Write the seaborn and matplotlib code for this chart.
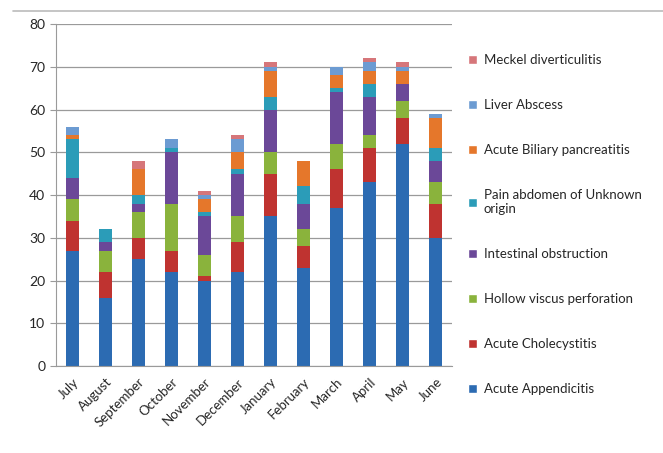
import numpy as np
import matplotlib
matplotlib.use("Agg")
import matplotlib.pyplot as plt
from matplotlib.patches import Patch
import seaborn as sns

# months and case counts per diagnosis
months = ["July", "August", "September", "October", "November", "December",
          "January", "February", "March", "April", "May", "June"]

acute_appendicitis = [27, 16, 25, 22, 20, 22, 35, 23, 37, 43, 52, 30]
acute_cholecystitis = [7, 6, 5, 5, 1, 7, 10, 5, 9, 8, 6, 8]
hollow_viscus = [5, 5, 6, 11, 5, 6, 5, 4, 6, 3, 4, 5]
intestinal_obstruction = [5, 2, 2, 12, 9, 10, 10, 6, 12, 9, 4, 5]
pain_unknown = [9, 3, 2, 1, 1, 1, 3, 4, 1, 3, 0, 3]
biliary_pancreatitis = [1, 0, 6, 0, 3, 4, 6, 6, 3, 3, 3, 7]
liver_abscess = [2, 0, 0, 2, 1, 3, 1, 0, 2, 2, 1, 1]
meckel = [0, 0, 2, 0, 1, 1, 1, 0, 0, 1, 1, 0]

series_names = ["Acute Appendicitis", "Acute Cholecystitis", "Hollow viscus perforation",
                "Intestinal obstruction", "Pain abdomen of Unknown\norigin",
                "Acute Biliary pancreatitis", "Liver Abscess", "Meckel diverticulitis"]
series_values = [acute_appendicitis, acute_cholecystitis, hollow_viscus,
                 intestinal_obstruction, pain_unknown, biliary_pancreatitis,
                 liver_abscess, meckel]
colors = ["#2C6BB2", "#BF3330", "#8AB33C", "#6B4898", "#2B9CB8",
          "#E5772B", "#6C9BD2", "#D6767A"]

sns.set_style("white")
plt.rcParams["font.family"] = ["Lato", "DejaVu Sans"]

fig = plt.figure(figsize=(6.63, 4.53), dpi=100)
ax = fig.add_axes([0.084, 0.192, 0.598, 0.755])

bottom = np.zeros(len(months))
for name, vals, col in zip(series_names, series_values, colors):
    sns.barplot(x=months, y=vals, bottom=bottom, color=col, width=0.4,
                errorbar=None, ax=ax, linewidth=0, saturation=1)
    bottom = bottom + np.array(vals)

ax.set_ylim(0, 80)
ax.set_xlim(-0.5, len(months) - 0.5)
ax.set_yticks(range(0, 81, 10))
ax.yaxis.grid(True, color="#9a9a9a", linewidth=0.9)
ax.set_axisbelow(True)
for side in ["top", "right"]:
    ax.spines[side].set_visible(False)
for side in ["left", "bottom"]:
    ax.spines[side].set_color("#9a9a9a")

# Excel-style ticks between the categories
ax.set_xticks(np.arange(len(months)))
ax.set_xticklabels(months, rotation=45, ha="right", rotation_mode="anchor", fontsize=9.5)
ax.tick_params(axis="x", length=0, pad=7)
ax.set_xticks(np.arange(-0.5, len(months), 1), minor=True)
ax.tick_params(axis="x", which="minor", length=5, color="#9a9a9a")
ax.tick_params(axis="y", length=4, color="#9a9a9a", labelsize=10, left=True)
ax.set_xlabel("")
ax.set_ylabel("")

handles = [Patch(facecolor=c, label=n) for n, c in zip(series_names, colors)][::-1]
fig.legend(handles=handles, loc="upper left", bbox_to_anchor=(0.688, 0.907),
           frameon=False, fontsize=9.5, handlelength=0.7, handleheight=0.7,
           handletextpad=0.5, labelspacing=2.5)

# thin line across the top of the picture
fig.add_artist(plt.Line2D([0.02, 1.0], [0.975, 0.975], color="#bbbbbb", linewidth=1.2))

fig.savefig("out.png", dpi=100)
